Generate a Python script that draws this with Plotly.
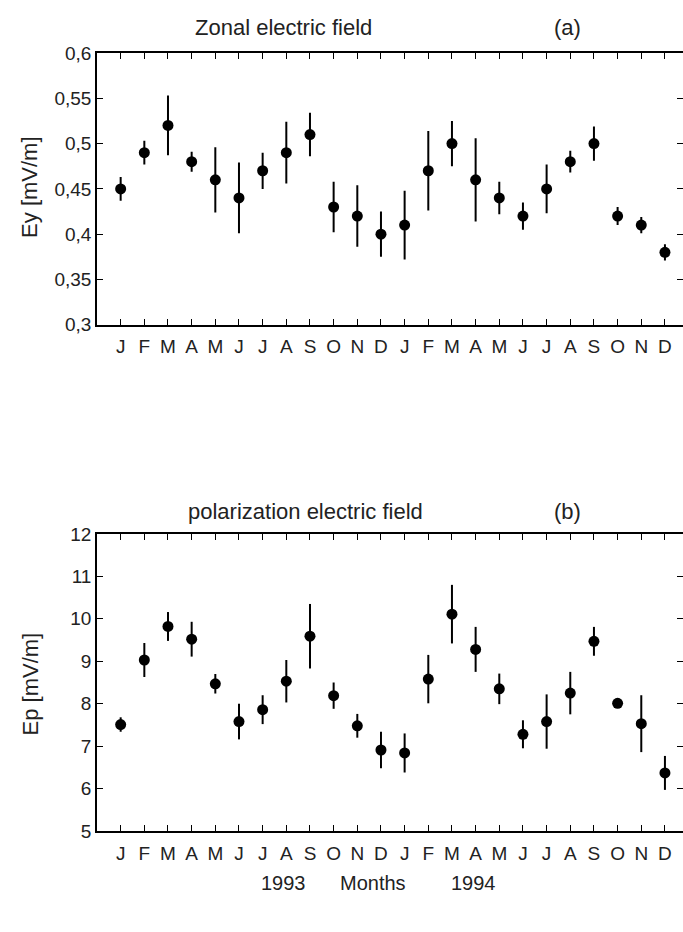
import plotly.graph_objects as go

months = ["J","F","M","A","M","J","J","A","S","O","N","D",
          "J","F","M","A","M","J","J","A","S","O","N","D"]

ey = [0.45,0.49,0.52,0.48,0.46,0.44,0.47,0.49,0.51,0.43,0.42,0.40,
      0.41,0.47,0.50,0.46,0.44,0.42,0.45,0.48,0.50,0.42,0.41,0.38]
ey_err = [0.013,0.013,0.033,0.011,0.036,0.039,0.020,0.034,0.024,0.028,0.034,0.025,
          0.038,0.044,0.025,0.046,0.018,0.015,0.027,0.012,0.019,0.010,0.009,0.009]

ep = [7.51,9.03,9.82,9.52,8.47,7.58,7.86,8.53,9.59,8.19,7.48,6.91,
      6.84,8.58,10.11,9.28,8.35,7.28,7.58,8.25,9.47,8.01,7.53,6.37]
ep_err = [0.17,0.40,0.34,0.41,0.23,0.42,0.34,0.50,0.76,0.31,0.28,0.43,
          0.46,0.57,0.69,0.53,0.36,0.33,0.64,0.50,0.34,0.10,0.67,0.40]

ey_ticks = [0.3,0.35,0.4,0.45,0.5,0.55,0.6]
ey_ticktext = ["0,3","0,35","0,4","0,45","0,5","0,55","0,6"]
ep_ticks = [5,6,7,8,9,10,11,12]
ep_ticktext = ["5","6","7","8","9","10","11","12"]

W, H = 683, 932
L = 97
FONT = "Liberation Sans, Arial, sans-serif"
TXT = "#222222"

xs = list(range(len(months)))

def py(p):
    return 1 - p / H

def px(p):
    return (p - L) / (W - L)

top_dom = [py(322), py(44)]
bot_dom = [py(840), py(536)]

fig = go.Figure()

for vals, errs, xa, ya in [(ey, ey_err, "x", "y"), (ep, ep_err, "x2", "y2")]:
    fig.add_trace(go.Scatter(
        x=xs, y=vals, mode="markers", xaxis=xa, yaxis=ya,
        marker=dict(color="black", size=11),
        error_y=dict(type="data", array=errs, visible=True,
                     color="black", thickness=2, width=0),
        showlegend=False, hoverinfo="skip"))

xrange_ = [-1, (W - 121) / 23.65]

xcommon = dict(range=xrange_, tickvals=xs, ticktext=months, ticks="inside",
               ticklen=6, tickwidth=1, tickcolor="black", showline=True,
               linecolor="black", linewidth=1.5, mirror="ticks", showgrid=False,
               zeroline=False, ticklabelstandoff=4,
               tickfont=dict(family=FONT, size=19, color=TXT))

ycommon = dict(ticks="inside", ticklen=6, tickwidth=1, tickcolor="black",
               showline=True, linecolor="black", linewidth=1.5, showgrid=False,
               zeroline=False, tickfont=dict(family=FONT, size=19, color=TXT))

fig.update_layout(
    width=W, height=H,
    margin=dict(l=L, r=0, t=0, b=0),
    paper_bgcolor="white", plot_bgcolor="white",
    xaxis=dict(domain=[0, 1], anchor="y", **xcommon),
    xaxis2=dict(domain=[0, 1], anchor="y2", **xcommon),
    yaxis=dict(domain=top_dom, anchor="x", range=[0.3, 0.6],
               tickvals=ey_ticks, ticktext=ey_ticktext, **ycommon),
    yaxis2=dict(domain=bot_dom, anchor="x2", range=[5, 12],
                tickvals=ep_ticks, ticktext=ep_ticktext, **ycommon),
    yaxis3=dict(domain=top_dom, anchor="x", overlaying="y", side="right",
                range=[0.3, 0.6], tickvals=ey_ticks, ticks="inside", ticklen=6,
                tickcolor="black", showticklabels=False, showline=False,
                showgrid=False, zeroline=False),
    yaxis4=dict(domain=bot_dom, anchor="x2", overlaying="y2", side="right",
                range=[5, 12], tickvals=ep_ticks, ticks="inside", ticklen=6,
                tickcolor="black", showticklabels=False, showline=False,
                showgrid=False, zeroline=False),
)

# empty traces so the right-hand tick axes render
fig.add_trace(go.Scatter(x=[None], y=[None], xaxis="x", yaxis="y3", showlegend=False))
fig.add_trace(go.Scatter(x=[None], y=[None], xaxis="x2", yaxis="y4", showlegend=False))

def ann(text, x, y, size=21, angle=0):
    fig.add_annotation(text=text, x=px(x), y=py(y), xref="paper", yref="paper",
                       showarrow=False, textangle=angle, xanchor="center",
                       yanchor="middle", font=dict(family=FONT, size=size, color=TXT))

ann("Zonal electric field", 283, 18, size=22)
ann("(a)", 567, 18, size=22)
ann("polarization electric field", 305, 513, size=22)
ann("(b)", 567, 513, size=22)
ann("Ey [mV/m]", 30, 182, size=22, angle=-90)
ann("Ep [mV/m]", 30, 690, size=22, angle=-90)
ann("1993", 283, 893, size=20)
ann("Months", 373, 893, size=20)
ann("1994", 473, 893, size=20)

fig.write_html("out.html")
